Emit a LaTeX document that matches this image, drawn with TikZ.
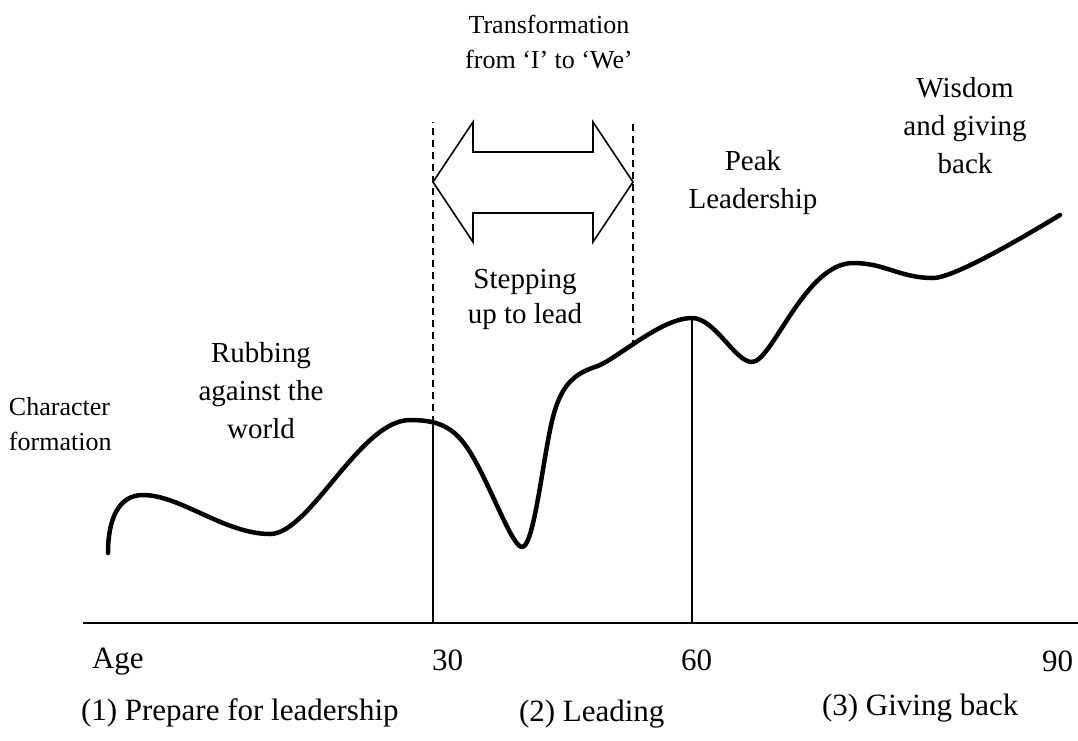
\documentclass[tikz,border=0pt]{standalone}
\usepackage{fontspec}
\setmainfont{Liberation Serif}
\newcommand{\mlc}[1]{\begin{tabular}[t]{@{}c@{}}#1\end{tabular}}
\newcommand{\mll}[1]{\begin{tabular}[t]{@{}l@{}}#1\end{tabular}}
\begin{document}
\begin{tikzpicture}[x=1pt,y=-1pt,
  lbl/.style={inner sep=0pt, outer sep=0pt, font=\fontsize{29}{38}\selectfont},
  lbltight/.style={inner sep=0pt, outer sep=0pt, font=\fontsize{29}{35}\selectfont},
  lblsmall/.style={inner sep=0pt, outer sep=0pt, font=\fontsize{26}{35}\selectfont},
  lblbottom/.style={inner sep=0pt, outer sep=0pt, font=\fontsize{31}{37}\selectfont, anchor=base west},
  thinline/.style={line width=1.6pt},
  dashline/.style={line width=1.4pt, dash pattern=on 7pt off 5pt},
  lifecurve/.style={line width=4.5pt, line cap=round, line join=round}]
\useasboundingbox (0,0) rectangle (1078,740);
\fill[white] (0,0) rectangle (1078,740);

% axis
\coordinate (axL) at (83,623);
\coordinate (axR) at (1078,623);
\draw[line width=2pt] (axL) -- (axR);

% vertical markers
\coordinate (m30b) at (433,623);
\coordinate (m30c) at (433,423);
\coordinate (m30t) at (433,122);
\coordinate (m60b) at (692,623);
\coordinate (m60c) at (692,318);
\coordinate (dRt) at (633,122);
\coordinate (dRc) at (633,347);
\draw[thinline] (m30b) -- (m30c);
\draw[thinline] (m60b) -- (m60c);
\draw[dashline] (m30c) -- (m30t);
\draw[dashline] (dRc) -- (dRt);

% double arrow
\draw[line width=1.6pt, line join=miter]
  (433,182) -- (473,122) -- (473,152) -- (593,152) -- (593,122) -- (633,182)
  -- (593,242) -- (593,213) -- (473,213) -- (473,242) -- cycle;

% life curve
\draw[lifecurve] (108,553)
  .. controls (108,520) and (118,495) .. (143,495)
  .. controls (180,495) and (225,534) .. (270,534)
  .. controls (310,534) and (360,420) .. (410,420)
  .. controls (440,420) and (455,428) .. (470,452)
  .. controls (490,484) and (512,547) .. (522,547)
  .. controls (533,547) and (541,475) .. (550,430)
  .. controls (558,390) and (570,375) .. (595,367)
  .. controls (615,361) and (660,318) .. (692,318)
  .. controls (715,318) and (735,362) .. (752,362)
  .. controls (772,362) and (805,263) .. (853,263)
  .. controls (885,263) and (900,278) .. (933,278)
  .. controls (955,278) and (1030,233) .. (1060,215);

% top labels
\node[lblsmall, anchor=base] (trans) at (549,33) {\mlc{Transformation\\from ‘I’ to ‘We’}};
\node[lbltight, anchor=base] (step) at (525,288) {\mlc{Stepping\\up to lead}};
\node[lbl, anchor=base] (rub) at (261,362) {\mlc{Rubbing\\against the\\world}};
\node[lbl, anchor=base] (peak) at (753,170) {\mlc{Peak\\Leadership}};
\node[lbl, anchor=base] (wis) at (965,97) {\mlc{Wisdom\\and giving\\back}};
\node[lblsmall, anchor=base west] (char) at (9,415) {\mll{Character\\formation}};

% bottom labels
\node[lblbottom] (age) at (92,668) {Age};
\node[lblbottom] (t30) at (432,670) {30};
\node[lblbottom] (t60) at (681,670) {60};
\node[lblbottom] (t90) at (1042,671) {90};
\node[lblbottom] (ph1) at (81,720) {(1) Prepare for leadership};
\node[lblbottom] (ph2) at (519,721) {(2) Leading};
\node[lblbottom] (ph3) at (822,715) {(3) Giving back};
\end{tikzpicture}
\end{document}
